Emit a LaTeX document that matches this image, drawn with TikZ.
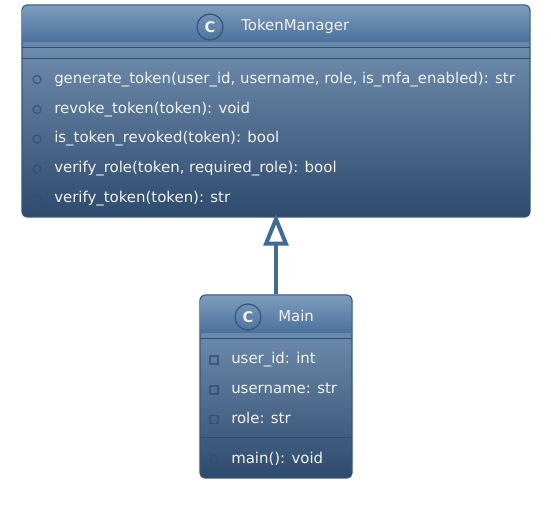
\documentclass[tikz,border=0pt]{standalone}
\usepackage{fontspec}
\setmainfont{DejaVu Sans}
\usetikzlibrary{arrows.meta}
\definecolor{boxtop}{HTML}{7E9CBC}
\definecolor{boxbottom}{HTML}{2E4A6D}
\definecolor{headend}{HTML}{4A719C}
\definecolor{bandcol}{HTML}{6889AE}
\definecolor{framecol}{HTML}{34547A}
\definecolor{rulecol}{HTML}{2F4D72}
\definecolor{markcol}{HTML}{2F4D72}
\definecolor{linkcol}{HTML}{3F6A99}
\definecolor{textcol}{HTML}{F2F2F2}
\tikzset{
    classbox/.style={draw=framecol, line width=.9pt, rounded corners=3.75pt, top color=boxtop, bottom color=boxbottom, inner sep=0pt},
    headfill/.style={top color=boxtop, bottom color=headend},
    rule/.style={draw=rulecol, line width=.9pt},
    member/.style={anchor=base west, inner sep=0pt, text=textcol, font=\fontsize{11.2}{13}\selectfont},
    title/.style={anchor=base west, inner sep=0pt, text=textcol, font=\fontsize{11.2}{13}\selectfont},
    badge/.style={circle, draw=framecol, line width=.9pt, minimum size=19.5pt, inner sep=0pt, text=textcol, font=\bfseries\fontsize{11}{13}\selectfont},
    pubmark/.style={circle, draw=markcol, draw opacity=.75, line width=.9pt, minimum size=6pt, inner sep=0pt},
    privmark/.style={rectangle, draw=markcol, draw opacity=.75, line width=.9pt, minimum size=6pt, inner sep=0pt}
}
\begin{document}
\begin{tikzpicture}[x=.75pt, y=-.75pt]
        \useasboundingbox (0,0) rectangle (551,531);

        % upper class
        \node[classbox, minimum width=381pt, minimum height=159pt] (manager) at (276,111) {};
        \path[headfill] (22.6,42) [rounded corners=3.5pt] -- (22.6,5.6) -- (529.4,5.6) [sharp corners] -- (529.4,42) -- cycle;
        \fill[bandcol] (22.6,42) rectangle (529.4,47);
        \draw[rule] (22,47.5) -- (530,47.5);
        \draw[rule] (22,58.5) -- (530,58.5);
        \node[badge] (managerbadge) at (210,27) {C};
        \node[title] (managertitle) at (241,31) {TokenManager};

        \node[pubmark] (mark1) at (37,79.5) {};
        \node[member] (gen) at (54,84) {generate\_token(user\_id, username, role, is\_mfa\_enabled): str};
        \node[pubmark] (mark2) at (37,109.5) {};
        \node[member] (revoke) at (54,113.5) {revoke\_token(token): void};
        \node[pubmark] (mark3) at (37,139) {};
        \node[member] (revoked) at (54,143) {is\_token\_revoked(token): bool};
        \node[pubmark] (mark4) at (37,169) {};
        \node[member] (role) at (54,173) {verify\_role(token, required\_role): bool};
        \node[pubmark] (mark5) at (37,198.5) {};
        \node[member] (verify) at (54,202.5) {verify\_token(token): str};

        % lower class
        \node[classbox, minimum width=114pt, minimum height=137.25pt] (main) at (276,386.5) {};
        \path[headfill] (200.6,333) [rounded corners=3.5pt] -- (200.6,295.6) -- (351.4,295.6) [sharp corners] -- (351.4,333) -- cycle;
        \fill[bandcol] (200.6,333) rectangle (351.4,338);
        \draw[rule] (200,338.5) -- (352,338.5);
        \draw[rule] (200,437.5) -- (352,437.5);
        \node[badge] (mainbadge) at (248,317) {C};
        \node[title] (maintitle) at (278,322) {Main};

        \node[privmark] (mark6) at (214,360) {};
        \node[member] (userid) at (231,364) {user\_id: int};
        \node[privmark] (mark7) at (214,390) {};
        \node[member] (username) at (231,394) {username: str};
        \node[privmark] (mark8) at (214,419.5) {};
        \node[member] (rolefield) at (231,424) {role: str};
        \node[pubmark] (mark9) at (214,459) {};
        \node[member] (mainop) at (231,464) {main(): void};

        % inheritance
        \draw[-{Triangle[open, length=24pt, width=18.5pt, fill=white]}, draw=linkcol, line width=3pt, shorten >=-3pt] (main.north) -- (manager.south);

    \end{tikzpicture}
\end{document}
